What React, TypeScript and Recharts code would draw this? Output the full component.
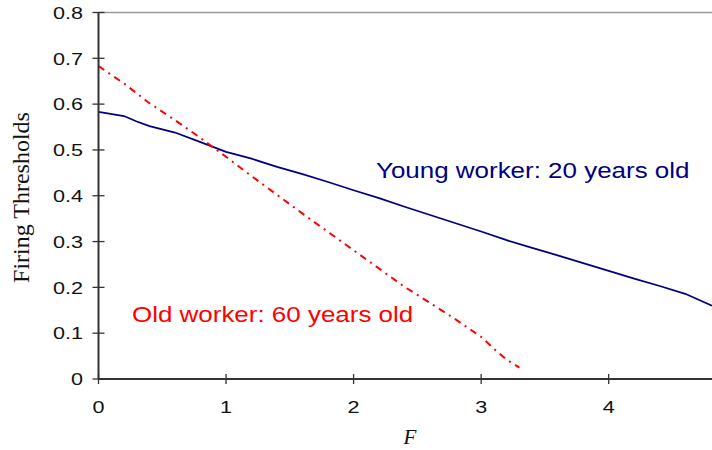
import { LineChart, Line, XAxis, YAxis, ReferenceLine } from 'recharts';

// young worker (20 years old)
const youngF = [0, 0.2, 0.3, 0.4, 0.6, 0.8, 1.0, 1.2, 1.4, 1.6, 1.8, 2.0, 2.2, 2.4, 2.6, 2.8, 3.0, 3.2, 3.4, 3.6, 3.8, 4.0, 4.2, 4.4, 4.6, 4.81];
const youngThreshold = [0.583, 0.574, 0.562, 0.552, 0.538, 0.517, 0.496, 0.481, 0.463, 0.447, 0.43, 0.412, 0.395, 0.376, 0.358, 0.34, 0.322, 0.303, 0.286, 0.27, 0.253, 0.236, 0.219, 0.203, 0.186, 0.16];

// old worker (60 years old)
const oldF = [0, 0.2, 0.4, 0.6, 0.8, 1.0, 1.2, 1.4, 1.6, 1.8, 2.0, 2.2, 2.4, 2.6, 2.8, 3.0, 3.1, 3.2, 3.3];
const oldThreshold = [0.683, 0.645, 0.602, 0.565, 0.526, 0.485, 0.443, 0.402, 0.361, 0.321, 0.281, 0.241, 0.201, 0.166, 0.13, 0.092, 0.066, 0.042, 0.025];

const xTicks = [0, 1, 2, 3, 4];
const yTicks = [0, 0.1, 0.2, 0.3, 0.4, 0.5, 0.6, 0.7, 0.8];

const youngData = youngF.map((f, i) => ({ f, v: youngThreshold[i] }));
const oldData = oldF.map((f, i) => ({ f, v: oldThreshold[i] }));

const sans = '"Liberation Sans", Arial, sans-serif';
const serif = '"Liberation Serif", "Times New Roman", serif';

// the original's text is stretched sideways
const tickStretch = 1.35;
const labelStretch = 1.18;

function YTick(props: any) {
  const { x, y, payload } = props;
  const axisX = x + 15.5;
  return (
    <g>
      <line x1={axisX - 6} x2={axisX + 6} y1={y} y2={y} stroke='#333' strokeWidth={1.3} />
      <g transform={`translate(${axisX - 15.5},${y + 6.3}) scale(${tickStretch},1)`}>
        <text x={0} y={0} textAnchor='end' style={{ fontSize: 16, fontFamily: sans }} fill='#111'>
          {payload.value === 0 ? '0' : payload.value.toFixed(1)}
        </text>
      </g>
    </g>
  );
}

function XTick(props: any) {
  const { x, y, payload } = props;
  const axisY = y - 22;
  return (
    <g>
      <line x1={x} x2={x} y1={axisY - 5} y2={axisY + 5} stroke='#333' strokeWidth={1.3} />
      <g transform={`translate(${x},${axisY + 34.3}) scale(${tickStretch},1)`}>
        <text x={0} y={0} textAnchor='middle' style={{ fontSize: 16, fontFamily: sans }} fill='#111'>
          {payload.value}
        </text>
      </g>
    </g>
  );
}

export default function App() {
  return (
    <div style={{ position: 'absolute', left: 0, top: 0, width: 712, height: 450, background: '#fff' }}>
      <LineChart width={712} height={450} margin={{ top: 12.5, right: 0, bottom: 0, left: 0 }}>
        <XAxis
          type='number'
          dataKey='f'
          domain={[0, 4.81]}
          ticks={xTicks}
          allowDataOverflow
          height={71}
          tickSize={0}
          tickMargin={22}
          tickLine={false}
          tick={<XTick />}
          axisLine={{ stroke: '#333', strokeWidth: 2 }}
        />
        <YAxis
          type='number'
          dataKey='v'
          domain={[0, 0.8]}
          ticks={yTicks}
          width={98.5}
          tickSize={0}
          tickMargin={15.5}
          tickLine={false}
          tick={<YTick />}
          axisLine={{ stroke: '#333', strokeWidth: 2 }}
        />
        <ReferenceLine y={0.8} stroke='#999' strokeWidth={1.5} />
        <Line
          data={youngData}
          dataKey='v'
          stroke='#000080'
          strokeWidth={1.8}
          dot={false}
          type='linear'
          isAnimationActive={false}
        />
        <Line
          data={oldData}
          dataKey='v'
          stroke='#ff0000'
          strokeWidth={2}
          strokeDasharray='7 5 2 5'
          dot={false}
          type='linear'
          isAnimationActive={false}
        />
      </LineChart>
      <svg width={712} height={450} style={{ position: 'absolute', left: 0, top: 0, pointerEvents: 'none' }}>
        <g transform={`translate(376,178) scale(${labelStretch},1)`}>
          <text x={0} y={0} style={{ fontSize: 22, fontFamily: sans }} fill='#000080'>
            Young worker: 20 years old
          </text>
        </g>
        <g transform={`translate(132,322) scale(${labelStretch},1)`}>
          <text x={0} y={0} style={{ fontSize: 22, fontFamily: sans }} fill='#ff0000'>
            Old worker: 60 years old
          </text>
        </g>
        <text
          transform='translate(28.5,197.5) rotate(-90)'
          textAnchor='middle'
          style={{ fontSize: 24, fontFamily: serif }}
          fill='#111'
        >
          Firing Thresholds
        </text>
        <text x={410} y={444} textAnchor='middle' style={{ fontSize: 21, fontFamily: serif, fontStyle: 'italic' }} fill='#111'>
          F
        </text>
      </svg>
    </div>
  );
}
